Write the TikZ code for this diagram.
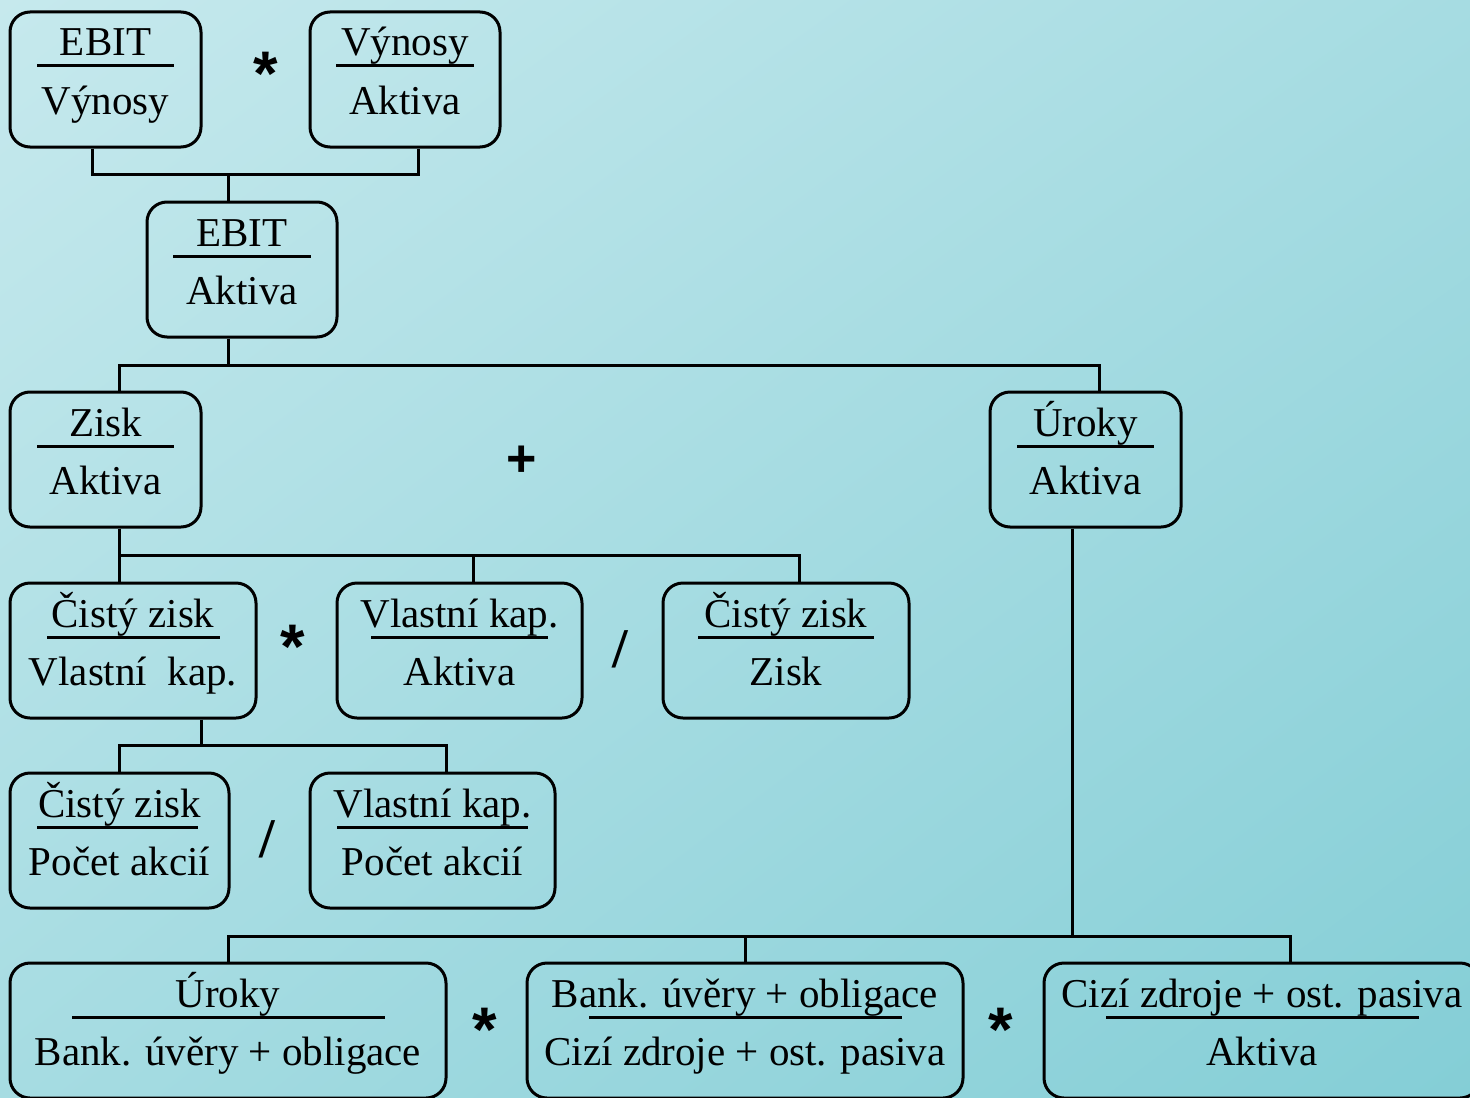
\documentclass[tikz,border=0pt]{standalone}
\usepackage{fontspec}
\setmainfont{Liberation Serif}
\newfontfamily\opfont{Liberation Sans}
\usetikzlibrary{fit,shadings}
\definecolor{bgtl}{RGB}{198,233,237}
\definecolor{bgmid}{RGB}{166,220,226}
\definecolor{bgbr}{RGB}{132,206,214}
\tikzset{
  box/.style={draw=black, line width=1.5pt, rounded corners=10pt, inner sep=0pt},
  txt/.style={anchor=base, inner sep=0pt, font=\fontsize{20.5}{24}\selectfont},
  rule/.style={line width=1.5pt},
  conn/.style={line width=1.5pt},
  op/.style={anchor=base, inner sep=0pt, font=\opfont\bfseries\fontsize{26}{30}\selectfont},
  star/.style={anchor=base, inner sep=0pt, font=\opfont\bfseries\fontsize{31.5}{34}\selectfont},
  slash/.style={anchor=base, inner sep=0pt, font=\bfseries\fontsize{28}{32}\selectfont},
}
\newcommand\FracBox[8]{%
  \node[box, fit={(#2,#3) (#4,{#3+135})}] (#1) {};
  \node[txt] (#1n) at ({(#2+#4)/2},{#3+44}) {#5};
  \node[txt] (#1d) at ({(#2+#4)/2},{#3+102}) {#6};
  \draw[rule] (#7,{#3+54}) -- (#8,{#3+54});
}
\begin{document}
\begin{tikzpicture}[x=0.5pt,y=-0.5pt]
\useasboundingbox (0,0) rectangle (1470,1097);
\clip (0,0) rectangle (1470,1097);
\shade[upper left=bgtl, upper right=bgmid, lower left=bgmid, lower right=bgbr] (0,0) rectangle (1470,1097);

\FracBox{b1}{10}{12}{201}{EBIT}{Výnosy}{37}{174}
\FracBox{b2}{310}{12}{500}{Výnosy}{Aktiva}{336}{474}
\FracBox{b3}{147}{202}{337}{EBIT}{Aktiva}{173}{311}
\FracBox{b4}{10}{392}{201}{Zisk}{Aktiva}{37}{174}
\FracBox{b5}{990}{392}{1181}{Úroky}{Aktiva}{1017}{1154}
\FracBox{b6}{10}{583}{256}{Čistý zisk}{Vlastní\ \ kap.}{47}{220}
\FracBox{b7}{337}{583}{582}{Vlastní kap.}{Aktiva}{371}{548}
\FracBox{b8}{663}{583}{909}{Čistý zisk}{Zisk}{698}{874}
\FracBox{b9}{10}{773}{229}{Čistý zisk}{Počet akcií}{37}{198}
\FracBox{b10}{310}{773}{555}{Vlastní kap.}{Počet akcií}{337}{528}
\FracBox{b11}{10}{963}{446}{Úroky}{Bank. úvěry + obligace}{72}{385}
\FracBox{b12}{527}{963}{963}{Bank. úvěry + obligace}{Cizí zdroje + ost. pasiva}{589}{902}
\FracBox{b13}{1044}{963}{1480}{Cizí zdroje + ost. pasiva}{Aktiva}{1106}{1419}

% junctions
\coordinate (j1a) at (92,174);  \coordinate (j1b) at (418,174);  \coordinate (j1c) at (228,174);
\coordinate (j2a) at (119,365); \coordinate (j2b) at (1099,365); \coordinate (j2c) at (228,365);
\coordinate (j3a) at (119,555); \coordinate (j3b) at (473,555);  \coordinate (j3c) at (799,555);
\coordinate (j4a) at (119,745); \coordinate (j4b) at (446,745);  \coordinate (j4c) at (201,745);
\coordinate (j5a) at (228,936); \coordinate (j5b) at (745,936);  \coordinate (j5c) at (1290,936); \coordinate (j5d) at (1072,936);

\draw[conn] (b1.south -| j1a) -- (j1a) -- (j1b) -- (b2.south -| j1b);
\draw[conn] (j1c) -- (b3.north -| j1c);

\draw[conn] (b4.north -| j2a) -- (j2a) -- (j2b) -- (b5.north -| j2b);
\draw[conn] (b3.south -| j2c) -- (j2c);

\draw[conn] (b4.south -| j3a) -- (b6.north -| j3a);
\draw[conn] (j3a) -- (j3c) -- (b8.north -| j3c);
\draw[conn] (j3b) -- (b7.north -| j3b);

\draw[conn] (b9.north -| j4a) -- (j4a) -- (j4b) -- (b10.north -| j4b);
\draw[conn] (b6.south -| j4c) -- (j4c);

\draw[conn] (b11.north -| j5a) -- (j5a) -- (j5c) -- (b13.north -| j5c);
\draw[conn] (j5b) -- (b12.north -| j5b);
\draw[conn] (b5.south -| j5d) -- (j5d);

% operators
\node[star] (o1) at (266,96) {*};
\node[op] (o2) at (522,476) {+};
\node[star] (o3) at (293,668) {*};
\node[slash] (o4) at (620,667) {/};
\node[slash] (o5) at (267,857) {/};
\node[star] (o6) at (485,1051) {*};
\node[star] (o7) at (1001,1051) {*};
\end{tikzpicture}
\end{document}
